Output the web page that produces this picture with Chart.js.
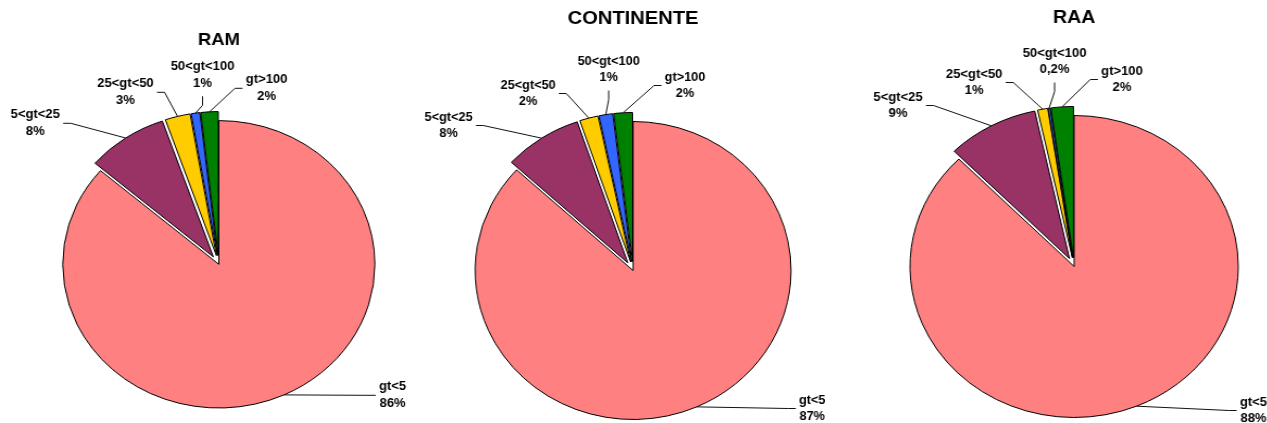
<!DOCTYPE html>
<html>
<head>
<meta charset="utf-8">
<title>gt classes</title>
<script src="https://cdn.jsdelivr.net/npm/chart.js@4.4.0/dist/chart.umd.min.js"></script>
<style>
  html, body { margin: 0; padding: 0; background: #fff; overflow: hidden; }
  #page { position: relative; width: 1267px; height: 423px; overflow: hidden; }
  .pie { position: absolute; top: 0; height: 423px; transform-origin: 0 0; }
</style>
</head>
<body>
<div id="page">
  <div class="pie" style="left:0px;width:403px;transform:scaleX(1.086)"><canvas id="ram"></canvas></div>
  <div class="pie" style="left:420px;width:402px;transform:scaleX(1.06)"><canvas id="continente"></canvas></div>
  <div class="pie" style="left:860px;width:394px;transform:scaleX(1.087)"><canvas id="raa"></canvas></div>
</div>
<script>
// categories and shares (%) per region
var categories = ['gt<5', '5<gt<25', '25<gt<50', '50<gt<100', 'gt>100'];
var ramValues = [86.3, 8.4, 2.6, 0.9, 1.8];
var continenteValues = [86.8, 8.0, 1.9, 1.4, 1.9];
var raaValues = [87.6, 9.0, 1.0, 0.2, 2.2];

var colours = ['#FF8080', '#993366', '#FFCC00', '#3366FF', '#008000'];
var explode = [0, 9, 9, 9, 9]; // px each slice is pulled out

// label offsets from the pie centre (unstretched px)
var ramLabelPos = [[160, 131], [-169, -141], [-86, -172], [-15, -189], [44, -176]];
var continenteLabelPos = [[169, 138], [-174, -145], [-99, -177], [-23, -201], [49, -185]];
var raaLabelPos = [[165, 144], [-162, -161], [-92, -184], [-18, -205], [44, -187]];

Chart.defaults.font.family = '"Liberation Sans", Arial, sans-serif';

function formatPct(p) {
  if (p < 0.5) return p.toFixed(1).replace('.', ',') + '%';
  return Math.round(p) + '%';
}

// draw each arc shifted out along its bisector
var explodePlugin = {
  id: 'explode',
  beforeDatasetDraw: function (chart, args) {
    var ctx = chart.ctx;
    args.meta.data.forEach(function (arc, i) {
      var p = arc.getProps(['startAngle', 'endAngle'], true);
      var mid = (p.startAngle + p.endAngle) / 2;
      ctx.save();
      ctx.translate(Math.cos(mid) * explode[i], Math.sin(mid) * explode[i]);
      arc.draw(ctx, chart.chartArea);
      ctx.restore();
    });
    return false;
  }
};

// category + percent labels with leader lines
var sliceLabels = {
  id: 'sliceLabels',
  afterDraw: function (chart, args, opts) {
    var ctx = chart.ctx;
    var meta = chart.getDatasetMeta(0);
    var values = chart.data.datasets[0].data;
    var total = values.reduce(function (a, b) { return a + b; }, 0);
    ctx.save();
    ctx.font = 'bold 12px "Liberation Sans", Arial, sans-serif';
    ctx.textAlign = 'center';
    ctx.textBaseline = 'middle';
    ctx.fillStyle = '#000';
    ctx.strokeStyle = '#111';
    ctx.lineWidth = 1;
    meta.data.forEach(function (arc, i) {
      var p = arc.getProps(['x', 'y', 'startAngle', 'endAngle', 'outerRadius'], true);
      var mid = (p.startAngle + p.endAngle) / 2;
      var d = p.outerRadius + explode[i];
      var ax = p.x + Math.cos(mid) * d;
      var ay = p.y + Math.sin(mid) * d;
      var lx = p.x + opts.positions[i][0];
      var ly = p.y + opts.positions[i][1];
      var lines = [chart.data.labels[i], formatPct(values[i] / total * 100)];
      var halfW = Math.max(ctx.measureText(lines[0]).width, ctx.measureText(lines[1]).width) / 2;
      var pts;
      if (Math.abs(ax - lx) > halfW + 4) {
        var side = ax > lx ? 1 : -1;
        var sx = lx + side * (halfW + 3);
        pts = [[sx, ly], [sx + side * 7, ly], [ax, ay]];
      } else {
        var dir = ay > ly ? 1 : -1;
        var sy = ly + dir * 21;
        pts = [[lx, sy], [lx, sy + dir * 9], [ax, ay]];
      }
      ctx.beginPath();
      ctx.moveTo(pts[0][0], pts[0][1]);
      ctx.lineTo(pts[1][0], pts[1][1]);
      ctx.lineTo(pts[2][0], pts[2][1]);
      ctx.stroke();
      ctx.fillText(lines[0], lx, ly - 8.25);
      ctx.fillText(lines[1], lx, ly + 8.25);
    });
    ctx.restore();
  }
};

function makePie(id, title, titleSize, titleY, centerY, radius, values, labelPos) {
  var lineH = titleSize * 1.2;
  var padTop = titleY - lineH / 2;
  var areaTop = 2 * centerY - 423;
  var padBottom = areaTop - padTop - lineH;
  return new Chart(document.getElementById(id), {
    type: 'pie',
    data: {
      labels: categories,
      datasets: [{
        data: values,
        backgroundColor: colours,
        borderColor: '#000',
        borderWidth: 1,
        radius: radius,
        clip: false
      }]
    },
    options: {
      responsive: true,
      maintainAspectRatio: false,
      animation: false,
      events: [],
      layout: { padding: 0 },
      plugins: {
        legend: { display: false },
        tooltip: { enabled: false },
        title: {
          display: true,
          text: title,
          color: '#000',
          font: { size: titleSize, weight: 'bold' },
          padding: { top: padTop, bottom: padBottom }
        },
        sliceLabels: { positions: labelPos }
      }
    },
    plugins: [explodePlugin, sliceLabels]
  });
}

makePie('ram', 'RAM', 17, 40, 264.3, 143.7, ramValues, ramLabelPos);
makePie('continente', 'CONTINENTE', 19, 18.5, 270.5, 149, continenteValues, continenteLabelPos);
makePie('raa', 'RAA', 18, 18, 266.5, 151, raaValues, raaLabelPos);
</script>
</body>
</html>
